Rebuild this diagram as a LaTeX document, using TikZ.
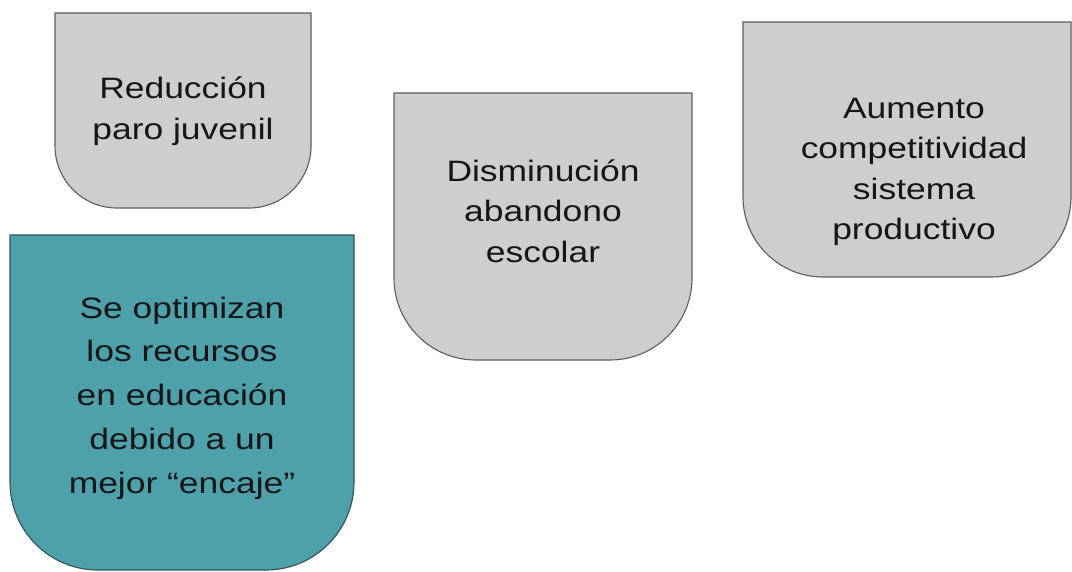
\documentclass[tikz,border=0pt]{standalone}
\usepackage{fontspec}
\setmainfont{Liberation Sans}
\usetikzlibrary{positioning}

\definecolor{capgray}{RGB}{206,206,206}
\definecolor{capteal}{RGB}{78,160,170}
\definecolor{rimgray}{RGB}{95,95,95}
\definecolor{rimteal}{RGB}{48,84,90}
\definecolor{inkdark}{RGB}{22,22,22}

\tikzset{
  graycap/.style={fill=capgray, draw=rimgray, line width=0.8pt},
  tealcap/.style={fill=capteal, draw=rimteal, line width=0.8pt},
  captext/.style={align=center, inner sep=0pt, text=inkdark,
    font=\fontsize{21}{28.8}\selectfont, xscale=1.2, transform shape}
}

\begin{document}
\begin{tikzpicture}[x=0.025cm, y=-0.025cm]
            \useasboundingbox (0,0) rectangle (1072,572);

            % boxes with round bottom
            \filldraw[graycap] (55,13) -- (311,13) -- (311,208-62) arc[start angle=0, end angle=90, radius=62] -- (55+62,208) arc[start angle=90, end angle=180, radius=62] -- cycle;
            \filldraw[tealcap] (10,235) -- (354,235) -- (354,570-88) arc[start angle=0, end angle=90, radius=88] -- (10+88,570) arc[start angle=90, end angle=180, radius=88] -- cycle;
            \filldraw[graycap] (394,93) -- (692,93) -- (692,360-82) arc[start angle=0, end angle=90, radius=82] -- (394+82,360) arc[start angle=90, end angle=180, radius=82] -- cycle;
            \filldraw[graycap] (743,22) -- (1071,22) -- (1071,277-80) arc[start angle=0, end angle=90, radius=80] -- (743+80,277) arc[start angle=90, end angle=180, radius=80] -- cycle;

            % texts
            \node[captext] (reduccion) at (183,111) {Reducción\\paro juvenil};
            \node[captext, font=\fontsize{21}{31.1}\selectfont] (optimizan) at (182,398) {Se optimizan\\los recursos\\en educación\\debido a un\\mejor “encaje”};
            \node[captext] (disminucion) at (543,211) {Disminución\\abandono\\escolar};
            \node[captext] (aumento) at (914,172) {Aumento\\competitividad\\sistema\\productivo};
\end{tikzpicture}
\end{document}
